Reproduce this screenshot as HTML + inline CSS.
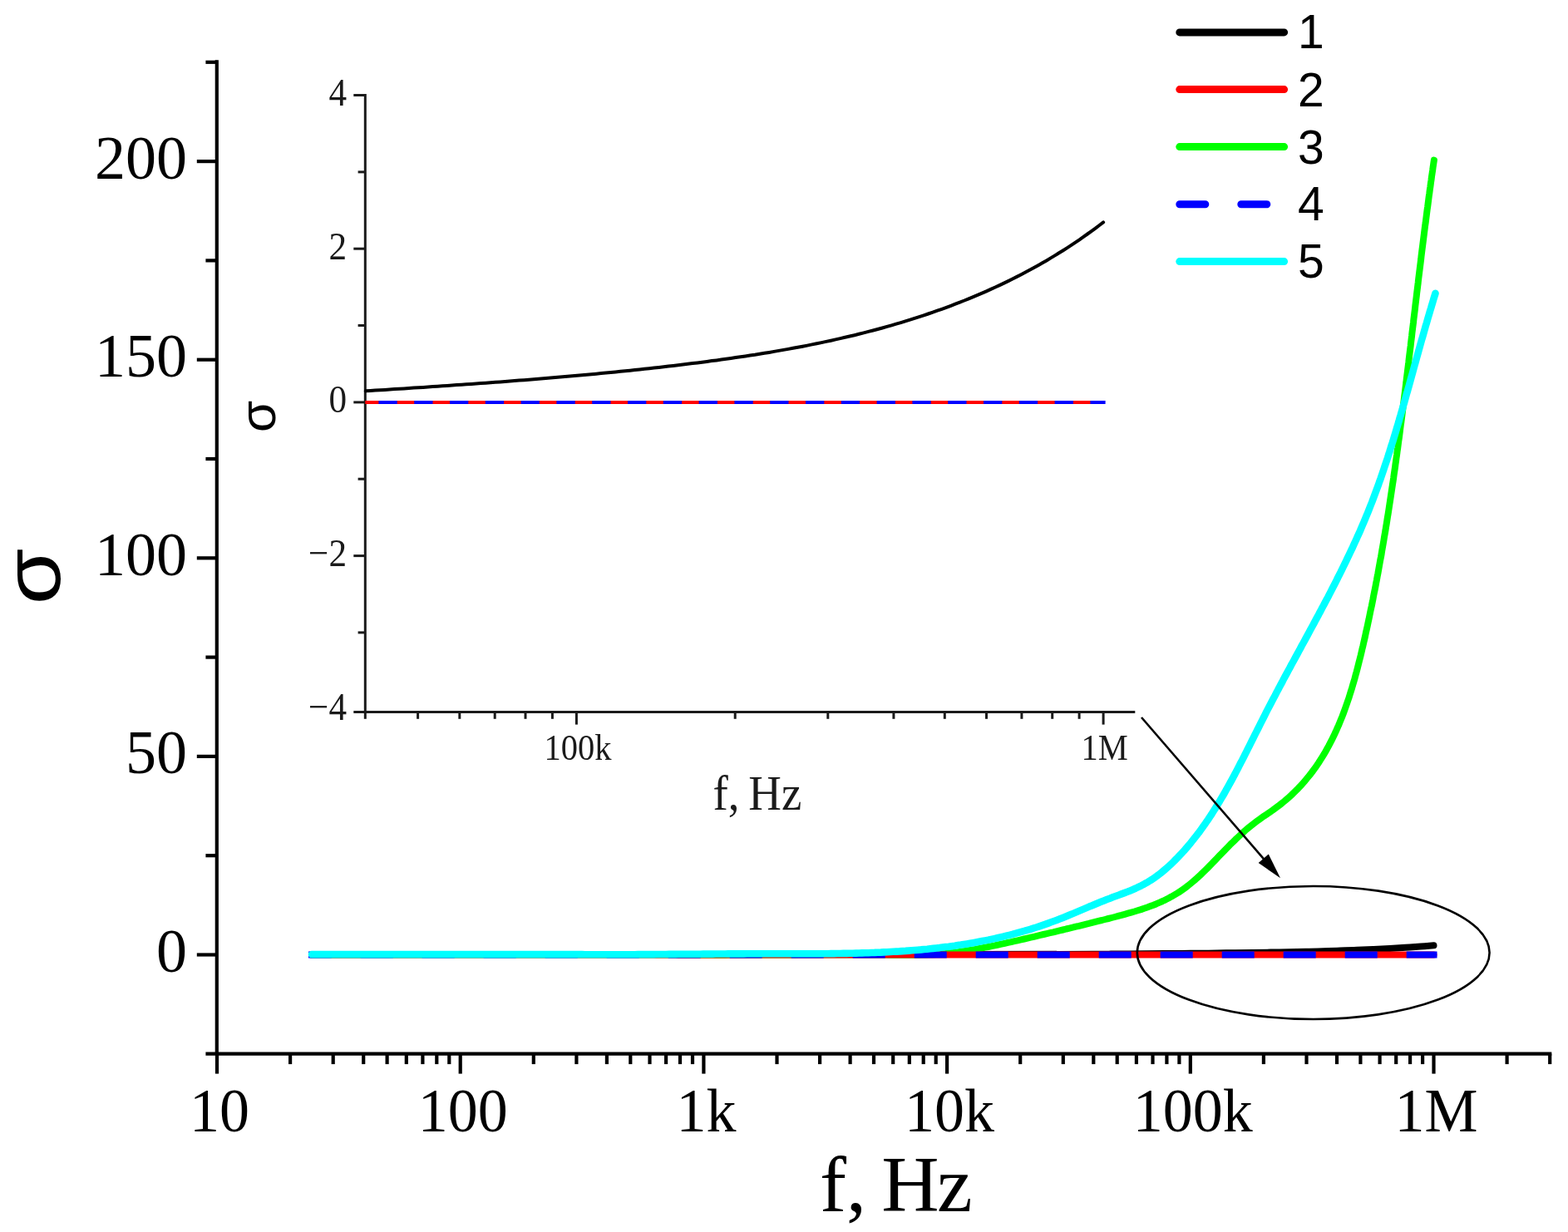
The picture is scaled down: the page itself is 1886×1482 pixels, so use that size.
<!DOCTYPE html><html><head><meta charset="utf-8"><title>sigma vs f</title>
<style>html,body{margin:0;padding:0;background:#fff;overflow:hidden}svg{display:block}.serif{font-family:"Liberation Serif","Times New Roman",serif}.sans{font-family:"Liberation Sans",Arial,sans-serif}</style></head><body>
<svg width="1886" height="1482" viewBox="0 0 1886 1482">
<rect width="1886" height="1482" fill="#fff"/>
<g stroke="#000" stroke-width="4.2" stroke-linecap="butt" fill="none"><line x1="260.8" y1="72.2" x2="260.8" y2="1267.6"/><line x1="247.4" y1="1267.6" x2="1866.3" y2="1267.6"/><line x1="236.8" y1="1148.5" x2="260.8" y2="1148.5"/><line x1="247.4" y1="1029.2" x2="260.8" y2="1029.2"/><line x1="236.8" y1="909.9" x2="260.8" y2="909.9"/><line x1="247.4" y1="790.6" x2="260.8" y2="790.6"/><line x1="236.8" y1="671.3" x2="260.8" y2="671.3"/><line x1="247.4" y1="552.0" x2="260.8" y2="552.0"/><line x1="236.8" y1="432.7" x2="260.8" y2="432.7"/><line x1="247.4" y1="313.4" x2="260.8" y2="313.4"/><line x1="236.8" y1="194.1" x2="260.8" y2="194.1"/><line x1="247.4" y1="74.8" x2="260.8" y2="74.8"/><line x1="261.0" y1="1267.6" x2="261.0" y2="1291.6"/><line x1="349.1" y1="1267.6" x2="349.1" y2="1280.1"/><line x1="400.7" y1="1267.6" x2="400.7" y2="1280.1"/><line x1="437.2" y1="1267.6" x2="437.2" y2="1280.1"/><line x1="465.6" y1="1267.6" x2="465.6" y2="1280.1"/><line x1="488.8" y1="1267.6" x2="488.8" y2="1280.1"/><line x1="508.4" y1="1267.6" x2="508.4" y2="1280.1"/><line x1="525.3" y1="1267.6" x2="525.3" y2="1280.1"/><line x1="540.3" y1="1267.6" x2="540.3" y2="1280.1"/><line x1="553.7" y1="1267.6" x2="553.7" y2="1291.6"/><line x1="641.8" y1="1267.6" x2="641.8" y2="1280.1"/><line x1="693.4" y1="1267.6" x2="693.4" y2="1280.1"/><line x1="729.9" y1="1267.6" x2="729.9" y2="1280.1"/><line x1="758.3" y1="1267.6" x2="758.3" y2="1280.1"/><line x1="781.5" y1="1267.6" x2="781.5" y2="1280.1"/><line x1="801.1" y1="1267.6" x2="801.1" y2="1280.1"/><line x1="818.0" y1="1267.6" x2="818.0" y2="1280.1"/><line x1="833.0" y1="1267.6" x2="833.0" y2="1280.1"/><line x1="846.4" y1="1267.6" x2="846.4" y2="1291.6"/><line x1="934.5" y1="1267.6" x2="934.5" y2="1280.1"/><line x1="986.1" y1="1267.6" x2="986.1" y2="1280.1"/><line x1="1022.6" y1="1267.6" x2="1022.6" y2="1280.1"/><line x1="1051.0" y1="1267.6" x2="1051.0" y2="1280.1"/><line x1="1074.2" y1="1267.6" x2="1074.2" y2="1280.1"/><line x1="1093.8" y1="1267.6" x2="1093.8" y2="1280.1"/><line x1="1110.7" y1="1267.6" x2="1110.7" y2="1280.1"/><line x1="1125.7" y1="1267.6" x2="1125.7" y2="1280.1"/><line x1="1139.1" y1="1267.6" x2="1139.1" y2="1291.6"/><line x1="1227.2" y1="1267.6" x2="1227.2" y2="1280.1"/><line x1="1278.8" y1="1267.6" x2="1278.8" y2="1280.1"/><line x1="1315.3" y1="1267.6" x2="1315.3" y2="1280.1"/><line x1="1343.7" y1="1267.6" x2="1343.7" y2="1280.1"/><line x1="1366.9" y1="1267.6" x2="1366.9" y2="1280.1"/><line x1="1386.5" y1="1267.6" x2="1386.5" y2="1280.1"/><line x1="1403.4" y1="1267.6" x2="1403.4" y2="1280.1"/><line x1="1418.4" y1="1267.6" x2="1418.4" y2="1280.1"/><line x1="1431.8" y1="1267.6" x2="1431.8" y2="1291.6"/><line x1="1519.9" y1="1267.6" x2="1519.9" y2="1280.1"/><line x1="1571.5" y1="1267.6" x2="1571.5" y2="1280.1"/><line x1="1608.0" y1="1267.6" x2="1608.0" y2="1280.1"/><line x1="1636.4" y1="1267.6" x2="1636.4" y2="1280.1"/><line x1="1659.6" y1="1267.6" x2="1659.6" y2="1280.1"/><line x1="1679.2" y1="1267.6" x2="1679.2" y2="1280.1"/><line x1="1696.1" y1="1267.6" x2="1696.1" y2="1280.1"/><line x1="1711.1" y1="1267.6" x2="1711.1" y2="1280.1"/><line x1="1724.5" y1="1267.6" x2="1724.5" y2="1291.6"/><line x1="1812.6" y1="1267.6" x2="1812.6" y2="1280.1"/><line x1="1864.2" y1="1267.6" x2="1864.2" y2="1280.1"/></g>
<g class="serif" font-size="74" fill="#000" text-anchor="end">
<text x="225.0" y="1169.0">0</text>
<text x="225.0" y="930.4">50</text>
<text x="225.0" y="691.8">100</text>
<text x="225.0" y="453.2">150</text>
<text x="225.0" y="214.6">200</text>
</g>
<g class="serif" font-size="72" fill="#000" text-anchor="middle">
<text transform="translate(264.0,1360.5) scale(1,1.035)">10</text>
<text transform="translate(556.7,1360.5) scale(1,1.035)">100</text>
<text transform="translate(849.4,1360.5) scale(1,1.035)">1k</text>
<text transform="translate(1142.1,1360.5) scale(1,1.035)">10k</text>
<text transform="translate(1434.8,1360.5) scale(1,1.035)">100k</text>
<text transform="translate(1727.5,1360.5) scale(1,1.035)">1M</text>
</g>
<text class="serif" font-size="96" x="986.0" y="1456.5" fill="#000">f, <tspan dx="-5.7">H</tspan><tspan dx="-2.5">z</tspan></text>
<text class="sans" font-size="96" fill="#000" transform="translate(72.0,727.3) rotate(-90) scale(1.14,1)">σ</text>
<g fill="none" stroke-width="8.0" stroke-linecap="round" stroke-linejoin="round">
<path stroke="#000" d="M375.0,1148.4 C453.6,1148.3 719.0,1148.3 846.4,1148.3 C973.8,1148.2 1061.1,1148.1 1139.1,1148.1 C1217.1,1148.0 1281.8,1147.9 1314.6,1147.8 C1347.5,1147.7 1328.9,1147.7 1336.0,1147.6 C1343.1,1147.6 1350.2,1147.5 1357.3,1147.5 C1364.4,1147.4 1371.5,1147.4 1378.7,1147.3 C1385.8,1147.3 1392.9,1147.2 1400.0,1147.1 C1407.2,1147.1 1414.3,1147.0 1421.4,1146.9 C1428.5,1146.9 1435.7,1146.8 1442.8,1146.7 C1449.9,1146.7 1457.1,1146.6 1464.2,1146.5 C1471.3,1146.4 1478.5,1146.3 1485.6,1146.2 C1492.7,1146.1 1499.8,1146.0 1507.0,1145.9 C1514.1,1145.8 1521.2,1145.7 1528.3,1145.6 C1535.4,1145.5 1542.4,1145.3 1549.5,1145.2 C1556.5,1145.0 1563.5,1144.9 1570.5,1144.7 C1577.5,1144.6 1584.5,1144.4 1591.4,1144.2 C1598.3,1144.0 1605.2,1143.8 1612.0,1143.5 C1618.8,1143.3 1625.6,1143.1 1632.3,1142.8 C1639.0,1142.5 1645.6,1142.3 1652.2,1142.0 C1658.8,1141.6 1665.3,1141.3 1671.7,1141.0 C1678.1,1140.6 1684.4,1140.2 1690.6,1139.8 C1696.8,1139.4 1703.3,1139.0 1709.0,1138.6 C1714.6,1138.1 1721.9,1137.5 1724.5,1137.3"/>
<path stroke="#0f0" d="M375,1148.3 L800.0,1148.3 L804.0,1148.3 L808.0,1148.4 L812.0,1148.4 L816.1,1148.5 L820.1,1148.5 L824.1,1148.5 L828.1,1148.5 L832.1,1148.6 L836.1,1148.6 L840.2,1148.6 L844.2,1148.6 L848.2,1148.6 L852.2,1148.6 L856.2,1148.6 L860.2,1148.7 L864.3,1148.7 L868.3,1148.7 L872.3,1148.7 L876.3,1148.6 L880.3,1148.6 L884.3,1148.6 L888.3,1148.6 L892.4,1148.6 L896.4,1148.6 L900.4,1148.6 L904.4,1148.6 L908.4,1148.6 L912.4,1148.5 L916.4,1148.5 L920.5,1148.5 L924.5,1148.5 L928.5,1148.5 L932.5,1148.5 L936.5,1148.4 L940.5,1148.4 L944.5,1148.4 L948.5,1148.4 L952.6,1148.4 L956.6,1148.4 L960.6,1148.3 L964.6,1148.3 L968.6,1148.3 L972.6,1148.3 L976.6,1148.3 L980.7,1148.3 L984.7,1148.3 L988.7,1148.3 L992.7,1148.3 L996.7,1148.3 L1000.7,1148.3 L1004.7,1148.3 L1008.8,1148.3 L1012.8,1148.3 L1016.8,1148.3 L1020.8,1148.3 L1024.8,1148.3 L1028.8,1148.3 L1032.9,1148.3 L1036.9,1148.4 L1040.9,1148.4 L1044.9,1148.4 L1048.9,1148.4 L1053.0,1148.5 L1057.0,1148.5 L1061.0,1148.6 L1065.0,1148.6 L1069.0,1148.7 L1073.1,1148.7 L1077.1,1148.8 L1081.1,1148.8 L1085.1,1148.8 L1089.1,1148.8 L1093.2,1148.8 L1097.2,1148.8 L1101.2,1148.8 L1105.2,1148.7 L1109.2,1148.6 L1113.2,1148.5 L1117.2,1148.3 L1121.2,1148.2 L1125.2,1147.9 L1129.2,1147.6 L1133.2,1147.3 L1137.2,1147.0 L1141.2,1146.5 L1145.2,1146.1 L1149.2,1145.6 L1153.1,1145.1 L1157.1,1144.5 L1161.1,1143.9 L1165.0,1143.3 L1169.0,1142.6 L1172.9,1142.0 L1176.9,1141.2 L1180.8,1140.5 L1184.8,1139.7 L1188.7,1139.0 L1192.7,1138.2 L1196.6,1137.4 L1200.5,1136.5 L1204.5,1135.7 L1208.4,1134.8 L1212.3,1133.9 L1216.2,1133.1 L1220.1,1132.2 L1224.0,1131.3 L1228.0,1130.4 L1231.9,1129.5 L1235.8,1128.6 L1239.7,1127.7 L1243.5,1126.8 L1247.4,1125.8 L1251.3,1124.9 L1255.2,1124.0 L1259.1,1123.1 L1263.0,1122.2 L1266.9,1121.3 L1270.8,1120.3 L1274.7,1119.4 L1278.5,1118.5 L1282.4,1117.5 L1286.3,1116.6 L1290.2,1115.7 L1294.1,1114.7 L1298.0,1113.8 L1301.9,1112.8 L1305.8,1111.8 L1309.7,1110.9 L1313.6,1109.9 L1317.5,1108.9 L1321.4,1107.9 L1325.3,1107.0 L1329.2,1106.0 L1333.2,1105.0 L1337.1,1104.0 L1341.0,1103.0 L1345.0,1101.9 L1348.9,1100.9 L1352.8,1099.8 L1356.7,1098.7 L1360.6,1097.6 L1364.5,1096.5 L1368.4,1095.3 L1372.3,1094.1 L1376.1,1092.8 L1379.9,1091.5 L1383.7,1090.1 L1387.4,1088.7 L1391.1,1087.2 L1394.8,1085.6 L1398.4,1084.0 L1402.0,1082.3 L1405.5,1080.5 L1409.0,1078.6 L1412.4,1076.6 L1415.8,1074.6 L1419.2,1072.5 L1422.4,1070.2 L1425.6,1067.9 L1428.8,1065.5 L1431.9,1063.0 L1434.9,1060.5 L1438.0,1057.9 L1440.9,1055.2 L1443.9,1052.5 L1446.8,1049.7 L1449.7,1046.9 L1452.5,1044.1 L1455.4,1041.2 L1458.2,1038.3 L1461.0,1035.4 L1463.8,1032.5 L1466.5,1029.6 L1469.3,1026.7 L1472.1,1023.9 L1474.9,1021.0 L1477.6,1018.2 L1480.4,1015.3 L1483.3,1012.6 L1486.1,1009.8 L1489.0,1007.1 L1491.9,1004.4 L1494.8,1001.7 L1497.8,999.0 L1500.9,996.4 L1504.0,993.9 L1507.2,991.4 L1510.4,988.9 L1513.7,986.4 L1517.1,984.0 L1520.5,981.6 L1524.0,979.3 L1527.4,976.9 L1530.9,974.5 L1534.3,972.0 L1537.6,969.6 L1540.9,967.0 L1544.0,964.5 L1547.1,961.9 L1550.2,959.2 L1553.2,956.5 L1556.1,953.7 L1558.9,950.9 L1561.7,948.1 L1564.4,945.2 L1567.0,942.3 L1569.6,939.3 L1572.1,936.3 L1574.6,933.3 L1577.0,930.2 L1579.4,927.0 L1581.7,923.9 L1583.9,920.7 L1586.1,917.5 L1588.2,914.2 L1590.3,910.9 L1592.3,907.6 L1594.3,904.2 L1596.2,900.8 L1598.1,897.4 L1599.9,893.9 L1601.7,890.4 L1603.4,886.9 L1605.1,883.4 L1606.8,879.8 L1608.4,876.2 L1610.0,872.6 L1611.5,869.0 L1613.0,865.3 L1614.5,861.7 L1615.9,858.0 L1617.3,854.2 L1618.6,850.5 L1619.9,846.7 L1621.2,843.0 L1622.5,839.2 L1623.7,835.4 L1624.9,831.5 L1626.1,827.7 L1627.2,823.8 L1628.4,820.0 L1629.5,816.1 L1630.5,812.2 L1631.6,808.3 L1632.6,804.4 L1633.6,800.5 L1634.6,796.6 L1635.6,792.6 L1636.6,788.7 L1637.5,784.8 L1638.4,780.8 L1639.4,776.9 L1640.3,772.9 L1641.2,769.0 L1642.1,765.0 L1642.9,761.0 L1643.8,757.1 L1644.7,753.1 L1645.5,749.2 L1646.4,745.2 L1647.2,741.2 L1648.0,737.3 L1648.8,733.3 L1649.7,729.4 L1650.5,725.4 L1651.3,721.5 L1652.0,717.5 L1652.8,713.5 L1653.6,709.6 L1654.4,705.6 L1655.1,701.7 L1655.9,697.7 L1656.6,693.7 L1657.4,689.8 L1658.1,685.8 L1658.8,681.8 L1659.5,677.9 L1660.2,673.9 L1661.0,670.0 L1661.7,666.0 L1662.3,662.0 L1663.0,658.1 L1663.7,654.1 L1664.4,650.1 L1665.0,646.2 L1665.7,642.2 L1666.4,638.3 L1667.0,634.3 L1667.7,630.3 L1668.3,626.4 L1668.9,622.4 L1669.6,618.4 L1670.2,614.5 L1670.8,610.5 L1671.4,606.5 L1672.0,602.6 L1672.6,598.6 L1673.2,594.6 L1673.8,590.7 L1674.4,586.7 L1675.0,582.7 L1675.6,578.8 L1676.2,574.8 L1676.7,570.8 L1677.3,566.9 L1677.9,562.9 L1678.4,558.9 L1679.0,554.9 L1679.5,551.0 L1680.1,547.0 L1680.6,543.0 L1681.2,539.1 L1681.7,535.1 L1682.2,531.1 L1682.8,527.2 L1683.3,523.2 L1683.8,519.2 L1684.3,515.2 L1684.8,511.3 L1685.4,507.3 L1685.9,503.3 L1686.4,499.4 L1686.9,495.4 L1687.4,491.4 L1687.9,487.4 L1688.4,483.5 L1688.9,479.5 L1689.4,475.5 L1689.9,471.5 L1690.4,467.6 L1690.9,463.6 L1691.4,459.6 L1691.8,455.6 L1692.3,451.7 L1692.8,447.7 L1693.3,443.7 L1693.8,439.7 L1694.3,435.7 L1694.7,431.8 L1695.2,427.8 L1695.7,423.8 L1696.2,419.8 L1696.7,415.9 L1697.1,411.9 L1697.6,407.9 L1698.1,403.9 L1698.5,399.9 L1699.0,396.0 L1699.5,392.0 L1700.0,388.0 L1700.4,384.0 L1700.9,380.0 L1701.4,376.1 L1701.9,372.1 L1702.3,368.1 L1702.8,364.1 L1703.3,360.1 L1703.8,356.1 L1704.2,352.2 L1704.7,348.2 L1705.2,344.2 L1705.7,340.2 L1706.1,336.2 L1706.6,332.2 L1707.1,328.3 L1707.6,324.3 L1708.1,320.3 L1708.6,316.3 L1709.1,312.3 L1709.5,308.3 L1710.0,304.3 L1710.5,300.3 L1711.0,296.4 L1711.5,292.4 L1712.0,288.4 L1712.5,284.4 L1713.0,280.4 L1713.5,276.4 L1714.0,272.4 L1714.6,268.4 L1715.1,264.4 L1715.6,260.5 L1716.1,256.5 L1716.6,252.5 L1717.2,248.5 L1717.7,244.5 L1718.2,240.5 L1718.7,236.5 L1719.3,232.5 L1719.8,228.5 L1720.4,224.5 L1720.9,220.5 L1721.5,216.5 L1722.0,212.5 L1722.6,208.5 L1723.2,204.6 L1723.7,200.6 L1724.3,196.6 L1724.9,192.6"/>
<path stroke="#f00" d="M375.0,1148.5 H1724.5"/>
<path stroke="#00f" stroke-linecap="square" stroke-dasharray="31 43" stroke-dashoffset="11.3" d="M375.0,1148.5 H1724.5"/>
<path stroke="#0ff" stroke-width="8.6" d="M375,1148.1 L699.9,1148.1 L703.7,1148.2 L707.4,1148.2 L711.2,1148.2 L714.9,1148.2 L718.7,1148.2 L722.5,1148.2 L726.2,1148.2 L730.0,1148.2 L733.7,1148.2 L737.5,1148.2 L741.2,1148.2 L745.0,1148.2 L748.7,1148.2 L752.5,1148.2 L756.2,1148.2 L759.9,1148.2 L763.7,1148.2 L767.4,1148.1 L771.2,1148.1 L774.9,1148.1 L778.7,1148.1 L782.4,1148.1 L786.1,1148.1 L789.9,1148.0 L793.6,1148.0 L797.3,1148.0 L801.1,1148.0 L804.8,1147.9 L808.6,1147.9 L812.3,1147.9 L816.0,1147.8 L819.8,1147.8 L823.5,1147.8 L827.2,1147.8 L831.0,1147.7 L834.7,1147.7 L838.5,1147.7 L842.2,1147.7 L845.9,1147.6 L849.7,1147.6 L853.4,1147.6 L857.1,1147.6 L860.9,1147.5 L864.6,1147.5 L868.3,1147.5 L872.1,1147.5 L875.8,1147.4 L879.6,1147.4 L883.3,1147.4 L887.0,1147.4 L890.8,1147.4 L894.5,1147.4 L898.3,1147.3 L902.0,1147.3 L905.8,1147.3 L909.5,1147.3 L913.2,1147.3 L917.0,1147.3 L920.7,1147.3 L924.5,1147.3 L928.2,1147.3 L932.0,1147.3 L935.7,1147.3 L939.5,1147.3 L943.2,1147.3 L947.0,1147.3 L950.7,1147.3 L954.5,1147.3 L958.2,1147.3 L962.0,1147.3 L965.7,1147.3 L969.5,1147.3 L973.2,1147.3 L977.0,1147.3 L980.7,1147.3 L984.5,1147.2 L988.2,1147.2 L992.0,1147.2 L995.7,1147.2 L999.5,1147.1 L1003.2,1147.1 L1007.0,1147.0 L1010.7,1147.0 L1014.5,1146.9 L1018.2,1146.9 L1022.0,1146.8 L1025.7,1146.7 L1029.5,1146.6 L1033.2,1146.5 L1036.9,1146.4 L1040.7,1146.3 L1044.4,1146.2 L1048.2,1146.0 L1051.9,1145.9 L1055.6,1145.7 L1059.4,1145.6 L1063.1,1145.4 L1066.8,1145.2 L1070.6,1145.0 L1074.3,1144.8 L1078.0,1144.6 L1081.7,1144.4 L1085.5,1144.1 L1089.2,1143.9 L1092.9,1143.6 L1096.6,1143.3 L1100.3,1143.0 L1104.0,1142.7 L1107.8,1142.4 L1111.5,1142.0 L1115.2,1141.7 L1118.9,1141.3 L1122.6,1140.9 L1126.3,1140.5 L1130.0,1140.1 L1133.7,1139.6 L1137.4,1139.1 L1141.0,1138.7 L1144.7,1138.2 L1148.4,1137.7 L1152.1,1137.1 L1155.8,1136.6 L1159.4,1136.0 L1163.1,1135.4 L1166.8,1134.8 L1170.4,1134.2 L1174.1,1133.5 L1177.7,1132.8 L1181.4,1132.1 L1185.0,1131.4 L1188.7,1130.7 L1192.3,1129.9 L1196.0,1129.1 L1199.6,1128.3 L1203.2,1127.5 L1206.9,1126.6 L1210.5,1125.7 L1214.1,1124.8 L1217.7,1123.9 L1221.3,1122.9 L1224.9,1121.9 L1228.5,1120.9 L1232.1,1119.9 L1235.7,1118.8 L1239.3,1117.8 L1242.9,1116.6 L1246.5,1115.5 L1250.1,1114.3 L1253.6,1113.1 L1257.2,1111.9 L1260.8,1110.6 L1264.3,1109.3 L1267.9,1108.0 L1271.4,1106.7 L1275.0,1105.3 L1278.5,1103.9 L1282.0,1102.5 L1285.6,1101.0 L1289.1,1099.6 L1292.6,1098.1 L1296.1,1096.6 L1299.6,1095.1 L1303.2,1093.6 L1306.7,1092.1 L1310.2,1090.6 L1313.7,1089.2 L1317.2,1087.7 L1320.8,1086.2 L1324.3,1084.8 L1327.8,1083.4 L1331.3,1082.0 L1334.9,1080.7 L1338.4,1079.3 L1341.9,1078.0 L1345.5,1076.7 L1349.0,1075.4 L1352.5,1074.1 L1356.0,1072.8 L1359.4,1071.4 L1362.8,1070.0 L1366.2,1068.5 L1369.5,1066.9 L1372.8,1065.3 L1376.1,1063.6 L1379.3,1061.8 L1382.4,1059.9 L1385.5,1058.0 L1388.5,1055.9 L1391.5,1053.8 L1394.4,1051.6 L1397.3,1049.3 L1400.2,1046.9 L1403.0,1044.5 L1405.7,1042.1 L1408.4,1039.6 L1411.1,1037.0 L1413.7,1034.4 L1416.3,1031.8 L1418.9,1029.1 L1421.4,1026.4 L1423.9,1023.7 L1426.3,1020.9 L1428.7,1018.1 L1431.1,1015.3 L1433.4,1012.4 L1435.7,1009.6 L1438.0,1006.7 L1440.3,1003.7 L1442.5,1000.8 L1444.7,997.8 L1446.8,994.8 L1449.0,991.8 L1451.1,988.7 L1453.2,985.7 L1455.2,982.6 L1457.3,979.5 L1459.3,976.3 L1461.3,973.2 L1463.2,970.0 L1465.2,966.8 L1467.1,963.7 L1469.0,960.4 L1470.9,957.2 L1472.8,954.0 L1474.6,950.7 L1476.5,947.4 L1478.3,944.2 L1480.1,940.9 L1481.9,937.6 L1483.7,934.2 L1485.5,930.9 L1487.2,927.6 L1489.0,924.2 L1490.7,920.9 L1492.4,917.5 L1494.2,914.2 L1495.9,910.8 L1497.6,907.4 L1499.3,904.1 L1501.0,900.7 L1502.7,897.3 L1504.4,893.9 L1506.1,890.5 L1507.8,887.1 L1509.5,883.7 L1511.2,880.4 L1512.9,877.0 L1514.6,873.6 L1516.3,870.2 L1518.0,866.8 L1519.7,863.5 L1521.4,860.1 L1523.1,856.7 L1524.8,853.4 L1526.6,850.0 L1528.3,846.7 L1530.1,843.3 L1531.8,840.0 L1533.6,836.7 L1535.3,833.3 L1537.1,830.0 L1538.8,826.7 L1540.6,823.4 L1542.4,820.1 L1544.1,816.7 L1545.9,813.4 L1547.7,810.1 L1549.5,806.8 L1551.3,803.5 L1553.0,800.2 L1554.8,797.0 L1556.6,793.7 L1558.4,790.4 L1560.2,787.1 L1562.0,783.8 L1563.8,780.5 L1565.5,777.2 L1567.3,774.0 L1569.1,770.7 L1570.9,767.4 L1572.7,764.1 L1574.5,760.8 L1576.2,757.6 L1578.0,754.3 L1579.8,751.0 L1581.5,747.7 L1583.3,744.4 L1585.1,741.2 L1586.8,737.9 L1588.6,734.6 L1590.3,731.3 L1592.1,728.0 L1593.8,724.7 L1595.5,721.5 L1597.3,718.2 L1599.0,714.9 L1600.7,711.6 L1602.4,708.3 L1604.1,705.0 L1605.8,701.7 L1607.5,698.3 L1609.1,695.0 L1610.8,691.7 L1612.5,688.4 L1614.1,685.1 L1615.8,681.7 L1617.4,678.4 L1619.0,675.1 L1620.6,671.7 L1622.2,668.4 L1623.8,665.0 L1625.4,661.7 L1627.0,658.3 L1628.5,654.9 L1630.1,651.5 L1631.6,648.2 L1633.1,644.8 L1634.7,641.4 L1636.2,638.0 L1637.6,634.6 L1639.1,631.1 L1640.6,627.7 L1642.0,624.3 L1643.4,620.9 L1644.9,617.4 L1646.3,613.9 L1647.6,610.5 L1649.0,607.0 L1650.4,603.5 L1651.7,600.0 L1653.0,596.5 L1654.3,593.0 L1655.6,589.5 L1656.9,586.0 L1658.2,582.5 L1659.4,578.9 L1660.7,575.4 L1661.9,571.9 L1663.1,568.3 L1664.3,564.8 L1665.5,561.2 L1666.7,557.6 L1667.9,554.1 L1669.1,550.5 L1670.2,546.9 L1671.4,543.3 L1672.5,539.7 L1673.6,536.1 L1674.8,532.5 L1675.9,528.9 L1677.0,525.3 L1678.1,521.7 L1679.2,518.1 L1680.2,514.5 L1681.3,510.9 L1682.4,507.3 L1683.4,503.6 L1684.5,500.0 L1685.5,496.4 L1686.6,492.8 L1687.6,489.1 L1688.7,485.5 L1689.7,481.9 L1690.7,478.3 L1691.7,474.6 L1692.8,471.0 L1693.8,467.4 L1694.8,463.8 L1695.8,460.1 L1696.8,456.5 L1697.8,452.9 L1698.8,449.3 L1699.8,445.7 L1700.8,442.0 L1701.8,438.4 L1702.8,434.8 L1703.8,431.2 L1704.8,427.6 L1705.8,424.0 L1706.8,420.4 L1707.8,416.8 L1708.8,413.2 L1709.8,409.6 L1710.9,406.0 L1711.9,402.5 L1712.9,398.9 L1713.9,395.3 L1714.9,391.7 L1716.0,388.2 L1717.0,384.6 L1718.0,381.1 L1719.1,377.5 L1720.1,374.0 L1721.2,370.5 L1722.2,367.0 L1723.3,363.4 L1724.3,359.9 L1725.4,356.4 L1726.5,352.9"/>
</g>
<g stroke="#1a1a1a" stroke-width="3.0" stroke-linecap="butt" fill="none"><line x1="439.3" y1="113.0" x2="439.3" y2="856.6"/><line x1="425.3" y1="856.6" x2="1365.3" y2="856.6"/><line x1="430.6" y1="760.9" x2="439.3" y2="760.9"/><line x1="425.3" y1="668.6" x2="439.3" y2="668.6"/><line x1="430.6" y1="576.2" x2="439.3" y2="576.2"/><line x1="425.3" y1="483.9" x2="439.3" y2="483.9"/><line x1="430.6" y1="391.5" x2="439.3" y2="391.5"/><line x1="425.3" y1="299.2" x2="439.3" y2="299.2"/><line x1="430.6" y1="206.9" x2="439.3" y2="206.9"/><line x1="425.3" y1="114.5" x2="439.3" y2="114.5"/><line x1="439.3" y1="856.6" x2="439.3" y2="864.8"/><line x1="502.6" y1="856.6" x2="502.6" y2="864.8"/><line x1="552.8" y1="856.6" x2="552.8" y2="864.8"/><line x1="595.2" y1="856.6" x2="595.2" y2="864.8"/><line x1="632.0" y1="856.6" x2="632.0" y2="864.8"/><line x1="664.4" y1="856.6" x2="664.4" y2="864.8"/><line x1="693.4" y1="856.6" x2="693.4" y2="871.6"/><line x1="884.2" y1="856.6" x2="884.2" y2="864.8"/><line x1="995.8" y1="856.6" x2="995.8" y2="864.8"/><line x1="1074.9" y1="856.6" x2="1074.9" y2="864.8"/><line x1="1136.3" y1="856.6" x2="1136.3" y2="864.8"/><line x1="1186.5" y1="856.6" x2="1186.5" y2="864.8"/><line x1="1228.9" y1="856.6" x2="1228.9" y2="864.8"/><line x1="1265.7" y1="856.6" x2="1265.7" y2="864.8"/><line x1="1298.1" y1="856.6" x2="1298.1" y2="864.8"/><line x1="1327.1" y1="856.6" x2="1327.1" y2="871.6"/></g>
<g class="serif" font-size="45" fill="#1a1a1a">
<text transform="translate(417.0,126.8) scale(0.920,1)" text-anchor="end" font-size="47">4</text>
<text transform="translate(417.0,311.5) scale(0.920,1)" text-anchor="end" font-size="47">2</text>
<text transform="translate(417.0,496.2) scale(0.920,1)" text-anchor="end" font-size="47">0</text>
<text transform="translate(417.0,680.9) scale(0.920,1)" text-anchor="end" font-size="47">−2</text>
<text transform="translate(417.0,865.6) scale(0.920,1)" text-anchor="end" font-size="47">−4</text>
<text transform="translate(694.9,914.0) scale(0.900,1)" text-anchor="middle" font-size="45">100k</text>
<text transform="translate(1328.6,914.0) scale(0.900,1)" text-anchor="middle" font-size="45">1M</text>
<text transform="translate(857.6,973.8) scale(0.93,1)" font-size="59">f, <tspan dx="-3.3">H</tspan>z</text>
</g>
<text class="sans" font-size="62" fill="#000" transform="translate(330.6,520.0) rotate(-90)">σ</text>
<g fill="none" stroke-width="4.0" stroke-linecap="butt" stroke-linejoin="round">
<path stroke="#000" stroke-linecap="round" d="M439.8,470.3 L445.5,470.0 L451.3,469.6 L457.1,469.2 L462.8,468.9 L468.6,468.5 L474.4,468.1 L480.1,467.7 L485.9,467.4 L491.7,467.0 L497.5,466.6 L503.2,466.2 L509.0,465.9 L514.8,465.5 L520.5,465.1 L526.3,464.7 L532.1,464.3 L537.9,463.9 L543.7,463.5 L549.4,463.1 L555.2,462.7 L561.0,462.3 L566.8,461.9 L572.6,461.5 L578.3,461.1 L584.1,460.7 L589.9,460.2 L595.7,459.8 L601.5,459.4 L607.3,458.9 L613.1,458.5 L618.8,458.1 L624.6,457.6 L630.4,457.2 L636.2,456.7 L642.0,456.2 L647.8,455.8 L653.6,455.3 L659.3,454.8 L665.1,454.3 L670.9,453.8 L676.7,453.3 L682.5,452.8 L688.3,452.3 L694.1,451.8 L699.9,451.3 L705.7,450.8 L711.4,450.2 L717.2,449.7 L723.0,449.1 L728.8,448.6 L734.6,448.0 L740.4,447.4 L746.2,446.8 L752.0,446.3 L757.8,445.7 L763.5,445.1 L769.3,444.4 L775.1,443.8 L780.9,443.2 L786.7,442.6 L792.5,441.9 L798.3,441.3 L804.1,440.6 L809.8,439.9 L815.6,439.2 L821.4,438.5 L827.2,437.8 L833.0,437.1 L838.8,436.4 L844.5,435.7 L850.3,434.9 L856.1,434.1 L861.9,433.4 L867.7,432.6 L873.4,431.8 L879.2,431.0 L885.0,430.1 L890.7,429.3 L896.5,428.4 L902.2,427.5 L908.0,426.7 L913.7,425.7 L919.5,424.8 L925.2,423.9 L931.0,422.9 L936.7,421.9 L942.4,420.9 L948.2,419.9 L953.9,418.8 L959.6,417.8 L965.3,416.7 L971.0,415.6 L976.7,414.4 L982.4,413.3 L988.1,412.1 L993.7,410.9 L999.4,409.7 L1005.1,408.4 L1010.7,407.1 L1016.4,405.8 L1022.0,404.5 L1027.7,403.2 L1033.3,401.8 L1038.9,400.4 L1044.5,398.9 L1050.1,397.5 L1055.7,396.0 L1061.3,394.5 L1066.8,392.9 L1072.4,391.3 L1078.0,389.7 L1083.5,388.1 L1089.0,386.4 L1094.6,384.7 L1100.1,382.9 L1105.6,381.2 L1111.1,379.4 L1116.5,377.5 L1122.0,375.6 L1127.4,373.7 L1132.9,371.8 L1138.3,369.8 L1143.7,367.8 L1149.1,365.7 L1154.5,363.6 L1159.9,361.5 L1165.2,359.3 L1170.6,357.1 L1175.9,354.9 L1181.2,352.6 L1186.5,350.3 L1191.8,347.9 L1197.1,345.5 L1202.3,343.1 L1207.5,340.6 L1212.7,338.1 L1217.9,335.5 L1223.1,332.9 L1228.3,330.2 L1233.4,327.5 L1238.5,324.8 L1243.6,322.0 L1248.7,319.2 L1253.8,316.3 L1258.8,313.4 L1263.8,310.4 L1268.8,307.4 L1273.8,304.3 L1278.8,301.2 L1283.7,298.1 L1288.6,294.9 L1293.5,291.6 L1298.4,288.3 L1303.2,284.9 L1308.0,281.5 L1312.8,278.1 L1317.6,274.6 L1322.3,271.0 L1327.1,267.4"/>
<path stroke="#f00" d="M439.3,483.9 H1327.6"/>
<path stroke="#00f" stroke-linecap="square" stroke-dasharray="18.3 24.5" stroke-dashoffset="24.7" d="M439.3,483.9 H1327.6"/>
</g>
<ellipse cx="1579.7" cy="1146" rx="211.9" ry="80" fill="none" stroke="#000" stroke-width="2.6"/>
<line x1="1373.0" y1="863.0" x2="1521.0" y2="1034.3" stroke="#000" stroke-width="2.6"/>
<polygon fill="#000" points="1540.0,1056.2 1513.7,1038.0 1525.8,1027.5"/>
<g fill="none" stroke-width="9" stroke-linecap="round">
<path stroke="#000" d="M1418.8,38.9 H1544.6"/>
<path stroke="#f00" d="M1418.8,107.6 H1544.6"/>
<path stroke="#0f0" d="M1418.8,176.6 H1544.6"/>
<path stroke="#00f" stroke-dasharray="31 43" d="M1418.8,245.8 H1544.6"/>
<path stroke="#0ff" d="M1418.8,314.6 H1544.6"/>
</g>
<g class="sans" font-size="57" fill="#000">
<text x="1561" y="58.3">1</text>
<text x="1561" y="127.5">2</text>
<text x="1561" y="196.7">3</text>
<text x="1561" y="264.8">4</text>
<text x="1561" y="334.0">5</text>
</g>
</svg></body></html>
